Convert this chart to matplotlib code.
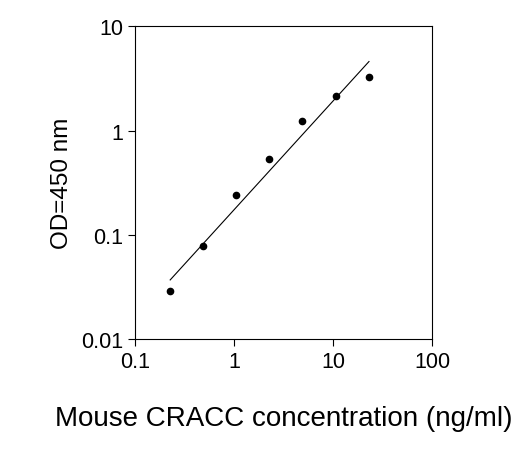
import matplotlib
matplotlib.use("Agg")
import matplotlib.pyplot as plt
from matplotlib.ticker import FixedLocator, FixedFormatter, NullLocator

plt.rcParams['font.family'] = ['Liberation Sans', 'DejaVu Sans']

# concentrations (ng/ml) and OD readings
conc = [0.226, 0.486, 1.05, 2.26, 4.87, 10.7, 23.1]
od = [0.029, 0.078, 0.24, 0.54, 1.23, 2.14, 3.26]
# fitted line endpoints
fit_x = [0.226, 23.1]
fit_y = [0.037, 4.6]

fig = plt.figure(figsize=(5.3, 4.56), dpi=100)
ax = fig.add_axes([0.255, 0.254, 0.56, 0.686])
ax.plot(fit_x, fit_y, color='black', lw=0.8)
ax.plot(conc, od, 'o', color='black', ms=4.5)
ax.set_xscale('log')
ax.set_yscale('log')
ax.set_xlim(0.1, 100)
ax.set_ylim(0.01, 10)

xt = [0.1, 1, 10, 100]
yt = [0.01, 0.1, 1, 10]
ax.xaxis.set_major_locator(FixedLocator(xt))
ax.xaxis.set_major_formatter(FixedFormatter(['0.1', '1', '10', '100']))
ax.yaxis.set_major_locator(FixedLocator(yt))
ax.yaxis.set_major_formatter(FixedFormatter(['0.01', '0.1', '1', '10']))
ax.xaxis.set_minor_locator(NullLocator())
ax.yaxis.set_minor_locator(NullLocator())
ax.tick_params(labelsize=15.5, length=5, width=0.8)
for s in ax.spines.values():
    s.set_linewidth(0.8)

ax.set_xlabel('Mouse CRACC concentration (ng/ml)', fontsize=20, labelpad=24)
ax.set_ylabel('OD=450 nm', fontsize=17.5, labelpad=6)

fig.savefig('out.png', dpi=100)
